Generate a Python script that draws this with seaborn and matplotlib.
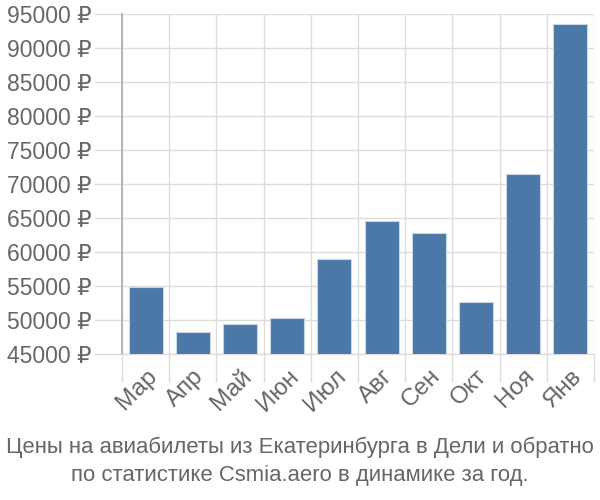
import matplotlib
matplotlib.use("Agg")
import matplotlib.pyplot as plt
import seaborn as sns
import pandas as pd

months = ["Мар", "Апр", "Май", "Июн", "Июл", "Авг", "Сен", "Окт", "Ноя", "Янв"]
prices = [54900, 48250, 49400, 50350, 58950, 64500, 62800, 52600, 71500, 93500]
yticks = [45000, 50000, 55000, 60000, 65000, 70000, 75000, 80000, 85000, 90000, 95000]
title_lines = ["Цены на авиабилеты из Екатеринбурга в Дели и обратно",
               "по статистике Csmia.aero в динамике за год."]

sns.set_theme(style="white")
plt.rcParams['font.family'] = ['Liberation Sans', 'DejaVu Sans']

df = pd.DataFrame({"month": months, "price": prices})

fig = plt.figure(figsize=(6, 5), dpi=100)
ax = fig.add_axes([122/600, (500-354)/500, (594-122)/600, (354-14)/500])

sns.barplot(data=df, x="month", y="price", color="#4c78a8", saturation=1,
            width=0.72, edgecolor="#c8d6e6", linewidth=0.8, ax=ax, zorder=3)

ax.set_ylim(45000, 95000)
ax.set_xlim(-0.5, len(months) - 0.5)
ax.set_yticks(yticks)
ax.set_yticklabels([f"{v} ₽" for v in yticks])
ax.set_xticks([i - 0.5 for i in range(len(months) + 1)], minor=True)
ax.set_xticks(range(len(months)))
ax.set_xticklabels(months, rotation=45, ha="right", rotation_mode="anchor")

ax.grid(False)
ax.yaxis.grid(True, color="#dddddd", linewidth=1, zorder=0)
ax.xaxis.grid(True, which="minor", color="#dddddd", linewidth=1, zorder=0)

ax.tick_params(axis="y", which="major", length=20, color="#dddddd", width=1,
               labelsize=16.5, labelcolor="#666666", pad=2, left=True)
ax.tick_params(axis="x", which="major", length=0, labelsize=17.5, labelcolor="#666666", pad=8)
ax.tick_params(axis="x", which="minor", length=20, color="#dddddd", width=1, bottom=True)

for s in ["top", "right"]:
    ax.spines[s].set_visible(False)
ax.spines["left"].set_color("#aaaaaa")
ax.spines["left"].set_linewidth(1.2)
ax.spines["bottom"].set_color("#dddddd")
ax.spines["bottom"].set_linewidth(1)
ax.set_xlabel("")
ax.set_ylabel("")

fig.text(0.5, 1 - 447/500, title_lines[0], ha="center", va="center",
         fontsize=15.9, color="#666666")
fig.text(0.5, 1 - 475/500, title_lines[1], ha="center", va="center",
         fontsize=15.9, color="#666666")

fig.savefig("out.png", dpi=100)
